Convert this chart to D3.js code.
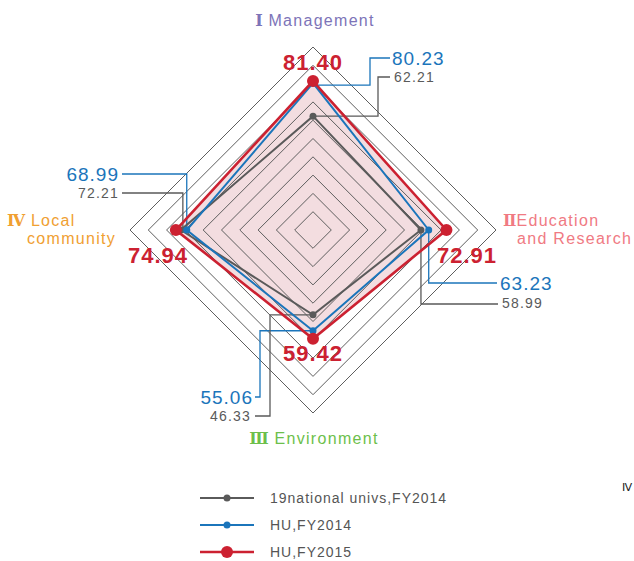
<!DOCTYPE html>
<html>
<head>
<meta charset="utf-8">
<script src="https://cdn.jsdelivr.net/npm/d3@7"></script>
<style>
  body { margin: 0; background: #fff; }
  svg text { font-family: "Liberation Sans", Arial, sans-serif; }
</style>
</head>
<body>
<div id="visualisationDiv" style="width:634px;height:561px;"></div>
<script>
var axes = ["Management", "Education", "Environment", "Local"];
var seriesNames = ["19national univs,FY2014", "HU,FY2014", "HU,FY2015"];
var univs2014 = [62.21, 58.99, 46.33, 72.21];
var hu2014 = [80.23, 63.23, 55.06, 68.99];
var hu2015 = [81.40, 72.91, 59.42, 74.94];
var ringTicks = [10, 20, 30, 40, 50, 60, 70, 80, 90, 100];

function makeVisualisation() {
  var width = 634, height = 561;
  var cx = 313, cy = 230;

  var svg = d3.select("#visualisationDiv").append("svg")
    .attr("width", width)
    .attr("height", height);

  var r = d3.scaleLinear().domain([0, 100]).range([0, 183]);
  var angle = d3.scaleBand().domain(axes).range([0, 2 * Math.PI]).align(0);

  function pt(i, v) {
    var a = angle(axes[i]) - Math.PI / 2;
    return [cx + r(v) * Math.cos(a), cy + r(v) * Math.sin(a)];
  }
  var line = d3.line();

  var series = [
    { name: seriesNames[0], values: univs2014, color: "#5a5a5a", width: 2, dot: 3.5 },
    { name: seriesNames[1], values: hu2014, color: "#1b75bb", width: 2, dot: 3.5 },
    { name: seriesNames[2], values: hu2015, color: "#cc2131", width: 2.6, dot: 6 }
  ];

  // pink fill of FY2015
  svg.append("path")
    .attr("d", line(hu2015.map(function(v, i) { return pt(i, v); })) + "Z")
    .attr("fill", "#f3dde0");

  // grid rings
  svg.append("g").selectAll("path")
    .data(ringTicks)
    .enter().append("path")
      .attr("d", function(t) { return line(axes.map(function(a, i) { return pt(i, t); })) + "Z"; })
      .attr("fill", "none")
      .attr("stroke", "#5e5e5e")
      .attr("stroke-width", 1);

  // leader lines
  var leaders = svg.append("g").attr("fill", "none").attr("stroke-width", 1.3);
  function leader(pts, color) {
    leaders.append("path").attr("d", line(pts)).attr("stroke", color);
  }
  var p;
  p = pt(0, hu2014[0]);   leader([[p[0] + 4, p[1] + 2], [370, p[1] + 2], [370, 58], [390, 58]], "#1b75bb");
  p = pt(0, univs2014[0]); leader([p, [378, p[1]], [378, 77], [390, 77]], "#5a5a5a");
  p = pt(1, hu2014[1]);   leader([p, [p[0], 283], [497, 283]], "#1b75bb");
  p = pt(1, univs2014[1]); leader([p, [p[0], 304], [498, 304]], "#5a5a5a");
  p = pt(2, hu2014[2]);   leader([p, [260, p[1]], [260, 397], [255, 397]], "#1b75bb");
  p = pt(2, univs2014[2]); leader([p, [270, p[1]], [270, 416], [255, 416]], "#5a5a5a");
  p = pt(3, hu2014[3]);   leader([p, [p[0], 174], [122, 174]], "#1b75bb");
  p = pt(3, univs2014[3]); leader([[p[0] + 2, p[1]], [p[0] + 2, 193], [122, 193]], "#5a5a5a");

  // series lines and dots
  series.forEach(function(s) {
    var pts = s.values.map(function(v, i) { return pt(i, v); });
    svg.append("path")
      .attr("d", line(pts) + "Z")
      .attr("fill", "none")
      .attr("stroke", s.color)
      .attr("stroke-width", s.width)
      .attr("stroke-linejoin", "miter");
    svg.append("g").selectAll("circle")
      .data(pts)
      .enter().append("circle")
        .attr("cx", function(d) { return d[0]; })
        .attr("cy", function(d) { return d[1]; })
        .attr("r", s.dot)
        .attr("fill", s.color);
  });

  // value labels
  function label(x, y, txt, color, size, bold, anchor, spacing) {
    return svg.append("text")
      .attr("x", x).attr("y", y)
      .attr("dy", "0.36em")
      .attr("text-anchor", anchor || "start")
      .attr("fill", color)
      .attr("font-size", size)
      .attr("font-weight", bold ? "bold" : "normal")
      .attr("letter-spacing", spacing || 0)
      .text(txt);
  }
  function fmt(v) { return v.toFixed(2); }
  label(cx, 62, fmt(hu2015[0]), "#cc2131", 22, true, "middle", 1);
  label(392, 58, fmt(hu2014[0]), "#1b75bb", 19, false, "start", 1);
  label(394, 77, fmt(univs2014[0]), "#5a5a5a", 14, false, "start", 1.2);
  label(467, 255, fmt(hu2015[1]), "#cc2131", 22, true, "middle", 1);
  label(500, 283, fmt(hu2014[1]), "#1b75bb", 19, false, "start", 1);
  label(502, 303, fmt(univs2014[1]), "#5a5a5a", 14, false, "start", 1.2);
  label(cx, 353, fmt(hu2015[2]), "#cc2131", 22, true, "middle", 1);
  label(253, 397, fmt(hu2014[2]), "#1b75bb", 19, false, "end", 1);
  label(251, 416, fmt(univs2014[2]), "#5a5a5a", 14, false, "end", 1.2);
  label(158, 255, fmt(hu2015[3]), "#cc2131", 22, true, "middle", 1);
  label(119, 174, fmt(hu2014[3]), "#1b75bb", 19, false, "end", 1);
  label(119, 193, fmt(univs2014[3]), "#5a5a5a", 14, false, "end", 1.2);

  // axis titles: serif roman numeral + sans name
  function title(x, y, numeral, name, color, anchor) {
    var t = label(x, y, "", color, 16, false, anchor, 1.3);
    t.append("tspan").attr("font-family", "DejaVu Serif").attr("font-weight", "bold")
      .attr("letter-spacing", 0).text(numeral);
    t.append("tspan").text(name);
    return t;
  }
  title(315, 20, "\u2160", " Management", "#7d74b8", "middle");
  title(503, 220, "\u2161", "Education", "#f07a83");
  label(517, 238, "and Research", "#f07a83", 16, false, "start", 1.3);
  title(314, 438, "\u2162", " Environment", "#6dbf4b", "middle");
  title(7, 220, "\u2163", " Local", "#f0a032");
  label(27, 238, "community", "#f0a032", 16, false, "start", 1.3);

  // stray numeral
  svg.append("text").attr("x", 622).attr("y", 491)
    .attr("font-family", "DejaVu Serif").attr("font-size", 11).attr("fill", "#222")
    .text("\u2163");

  // legend
  var legend = svg.append("g").selectAll("g")
    .data(series)
    .enter().append("g")
      .attr("transform", function(d, i) { return "translate(200," + (498 + i * 27) + ")"; });
  legend.append("line").attr("x1", 0).attr("x2", 54)
    .attr("stroke", function(d) { return d.color; })
    .attr("stroke-width", function(d) { return d.width; });
  legend.append("circle").attr("cx", 27).attr("r", function(d) { return d.dot; })
    .attr("fill", function(d) { return d.color; });
  legend.append("text").attr("x", 70).attr("dy", "0.36em")
    .attr("font-size", 14).attr("letter-spacing", 1).attr("fill", "#555")
    .text(function(d) { return d.name; });
}
makeVisualisation();
</script>
</body>
</html>
